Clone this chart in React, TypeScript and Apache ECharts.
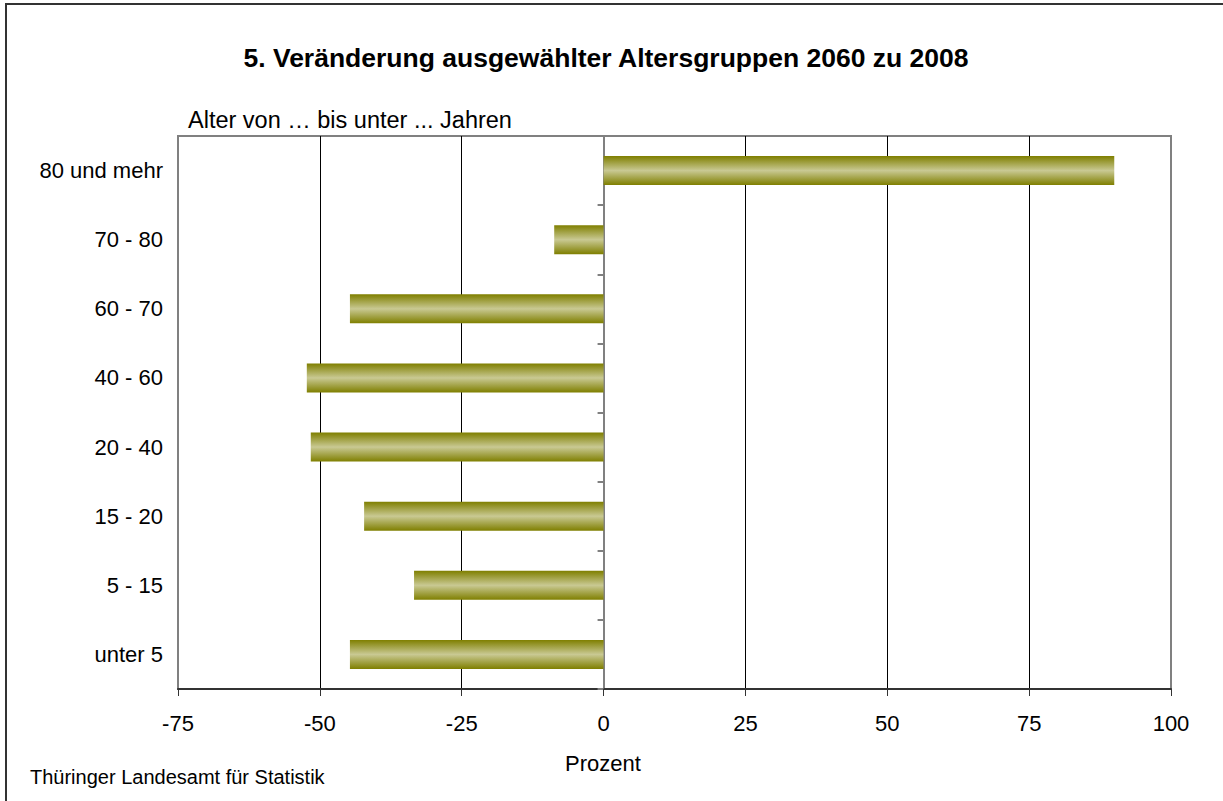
import React, { useEffect, useRef } from "react";
import * as echarts from "echarts";

const categories = ["unter 5", "5 - 15", "15 - 20", "20 - 40", "40 - 60", "60 - 70", "70 - 80", "80 und mehr"];
const values = [-44.7, -33.4, -42.2, -51.6, -52.3, -44.7, -8.7, 90.0];
const xMin = -75;
const xMax = 100;
const xStep = 25;
const titleText = "5. Veränderung ausgewählter Altersgruppen 2060 zu 2008";
const yAxisTitle = "Alter von … bis unter ... Jahren";
const xAxisTitle = "Prozent";
const sourceText = "Thüringer Landesamt für Statistik";

const FONT = "'Liberation Sans', Arial, sans-serif";

export default function App() {
  const ref = useRef<HTMLDivElement>(null);
  useEffect(() => {
    if (!ref.current) return;
    const chart = echarts.init(ref.current, undefined, { renderer: "svg" });
    const grad = new echarts.graphic.LinearGradient(0, 0, 0, 1, [
      { offset: 0, color: "#7f7f00" },
      { offset: 0.5, color: "#c9c993" },
      { offset: 1, color: "#7f7f00" },
    ]);
    chart.setOption({
      animation: false,
      backgroundColor: "#ffffff",
      textStyle: { fontFamily: FONT },
      grid: {
        left: 178,
        top: 136,
        right: 52,
        bottom: 112,
        show: true,
        borderColor: "#808080",
        borderWidth: 2,
        containLabel: false,
      },
      xAxis: {
        type: "value",
        min: xMin,
        max: xMax,
        interval: xStep,
        axisLine: { show: true, onZero: false, lineStyle: { color: "#333333", width: 2 } },
        axisTick: { show: true, length: 7, lineStyle: { color: "#333333", width: 1 } },
        axisLabel: { color: "#000", fontSize: 22, fontFamily: FONT, margin: 23 },
        splitLine: {
          show: true,
          lineStyle: {
            color: ["#808080", "#000000", "#000000", "#808080", "#000000", "#000000", "#000000", "#808080"],
            width: 1,
          },
        },
      },
      yAxis: [
        {
          type: "category",
          data: categories,
          axisLine: { show: false, onZero: false },
          axisTick: { show: false },
          axisLabel: { color: "#000", fontSize: 22, fontFamily: FONT, margin: 15 },
          splitLine: { show: false },
        },
        {
          type: "category",
          data: categories,
          position: "left",
          axisLine: { show: true, onZero: true, lineStyle: { color: "#808080", width: 2 } },
          axisTick: { show: true, length: 6, lineStyle: { color: "#808080", width: 2 } },
          axisLabel: { show: false },
          splitLine: { show: false },
        },
      ],
      series: [
        {
          type: "bar",
          yAxisIndex: 0,
          data: values,
          barWidth: 29,
          itemStyle: { color: grad },
          z: 1,
        },
      ],
      graphic: [
        {
          type: "rect",
          shape: { x: 6, y: 4, width: 1240, height: 820 },
          style: { fill: "none", stroke: "#333333", lineWidth: 2 },
          silent: true,
          z: 100,
        },
        {
          type: "text",
          x: 606,
          y: 58,
          style: {
            text: titleText,
            font: `bold 26.5px ${FONT}`,
            fill: "#000",
            align: "center",
            verticalAlign: "middle",
          },
        },
        {
          type: "text",
          x: 188,
          y: 120,
          style: {
            text: yAxisTitle,
            font: `23.5px ${FONT}`,
            fill: "#000",
            align: "left",
            verticalAlign: "middle",
          },
        },
        {
          type: "text",
          x: 603,
          y: 763,
          style: {
            text: xAxisTitle,
            font: `22px ${FONT}`,
            fill: "#000",
            align: "center",
            verticalAlign: "middle",
          },
        },
        {
          type: "text",
          x: 30,
          y: 777,
          style: {
            text: sourceText,
            font: `20px ${FONT}`,
            fill: "#000",
            align: "left",
            verticalAlign: "middle",
          },
        },
      ],
    });
    return () => chart.dispose();
  }, []);
  return (
    <div
      ref={ref}
      style={{ position: "fixed", left: 0, top: 0, width: 1223, height: 801 }}
    />
  );
}
